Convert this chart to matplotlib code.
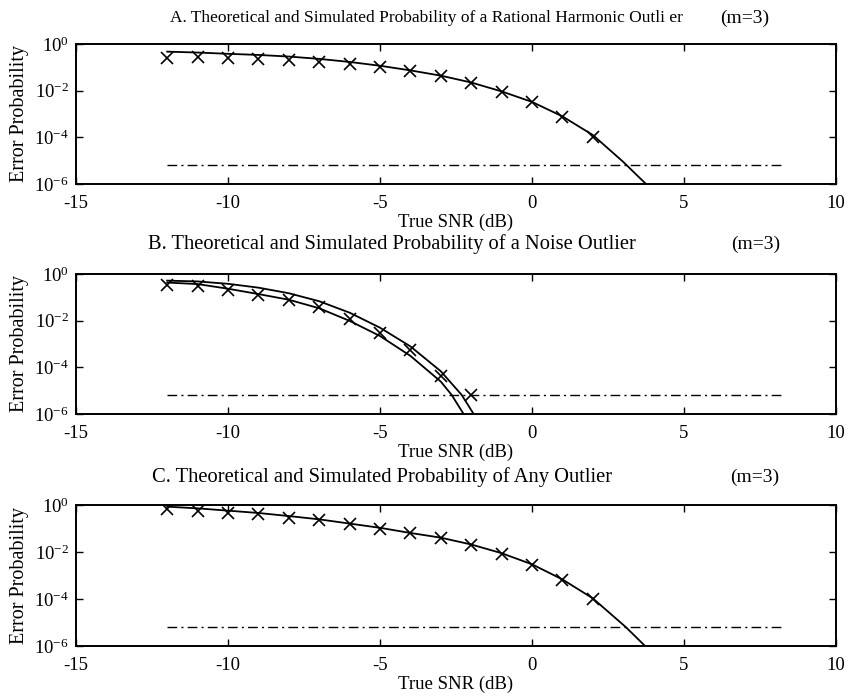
import matplotlib
matplotlib.use("Agg")
import matplotlib.pyplot as plt
import numpy as np

plt.rcParams['font.family'] = ['Liberation Serif', 'DejaVu Serif']
plt.rcParams['mathtext.fontset'] = 'custom'
plt.rcParams['mathtext.rm'] = 'Liberation Serif'
plt.rcParams['mathtext.it'] = 'Liberation Serif:italic'

# ---------------- data ----------------
snr_sim = [-12, -11, -10, -9, -8, -7, -6, -5, -4, -3, -2, -1, 0, 1, 2]

# Panel A: rational harmonic outlier
a_sim = [0.245, 0.27, 0.25, 0.23, 0.205, 0.175, 0.145, 0.107, 0.068, 0.043,
         0.022, 0.0091, 0.0034, 0.00072, 0.000107]
a_theory_x = [-12, -11, -10, -9, -8, -7, -6, -5, -4, -3, -2, -1, 0, 1, 2, 3, 3.75]
a_theory = [0.47, 0.43, 0.38, 0.34, 0.29, 0.23, 0.17, 0.117, 0.074, 0.044,
            0.0224, 0.0093, 0.0033, 0.00079, 0.000126, 8.9e-6, 1e-6]

# Panel B: noise outlier
b_sim_x = [-12, -11, -10, -9, -8, -7, -6, -5, -4, -3, -2]
b_sim = [0.35, 0.30, 0.20, 0.13, 0.074, 0.037, 0.0115, 0.0031, 0.00055,
         4.3e-5, 6.5e-6]
b_upper_x = [-12, -11, -10, -9, -8, -7, -6, -5, -4, -3, -2.31, -1.92]
b_upper = [0.52, 0.48, 0.38, 0.26, 0.15, 0.068, 0.022, 0.005, 0.00079,
           6.8e-5, 6.5e-6, 1e-6]
b_lower_x = [-12, -11, -10, -9, -8, -7, -6, -5, -4, -3, -2.64, -2.25]
b_lower = [0.43, 0.37, 0.234, 0.138, 0.079, 0.034, 0.0098, 0.0022, 0.00031,
           2.45e-5, 6.5e-6, 1e-6]

# Panel C: any outlier
c_sim = [0.65, 0.58, 0.47, 0.40, 0.29, 0.23, 0.155, 0.10, 0.062, 0.041,
         0.0195, 0.0079, 0.0027, 0.00062, 0.0001]
c_theory_x = [-12, -11, -10, -9, -8, -7, -6, -5, -4, -3, -2, -1, 0, 1, 2, 3.09, 3.72]
c_theory = [0.85, 0.72, 0.575, 0.457, 0.339, 0.245, 0.162, 0.107, 0.0646,
            0.0407, 0.0209, 0.0089, 0.0030, 0.00068, 0.000107, 6.3e-6, 1e-6]

floor_x = [-12, 8.2]
floor_y = [6.5e-6, 6.5e-6]

titles = ["A. Theoretical and Simulated Probability of a Rational Harmonic Outli er",
          "B. Theoretical and Simulated Probability of a Noise Outlier",
          "C. Theoretical and Simulated Probability of Any Outlier"]
m_label = "(m=3)"
xlabel = "True SNR (dB)"
ylabel = "Error Probability"
xticks = [-15, -10, -5, 0, 5, 10]
yticks = [1e-6, 1e-4, 1e-2, 1e0]

# ---------------- figure ----------------
fig = plt.figure(figsize=(8.53, 6.97), dpi=100)
W, H = 853.0, 697.0
boxes = [(44, 184), (274, 414), (505, 646)]
axes = []
for top, bot in boxes:
    ax = fig.add_axes([76 / W, 1 - bot / H, 760 / W, (bot - top) / H])
    axes.append(ax)

lw_curve = 1.3
ms = 9
dd = (7, 3, 1.5, 3)

def style(ax):
    ax.set_yscale('log')
    ax.set_xlim(-15, 10)
    ax.set_ylim(1e-6, 1e0)
    ax.set_xticks(xticks)
    ax.set_xticklabels([str(t) for t in xticks])
    ax.set_yticks(yticks)
    ax.yaxis.set_minor_locator(matplotlib.ticker.NullLocator())
    ax.tick_params(direction='in', top=True, right=True, length=5, width=1,
                   labelsize=13.5)
    ax.tick_params(axis='x', pad=8)
    ax.tick_params(axis='y', pad=5)
    for s in ax.spines.values():
        s.set_linewidth(1.4)
    ax.set_xlabel(xlabel, fontsize=13.5, labelpad=1)
    ax.set_ylabel(ylabel, fontsize=14.5, labelpad=4)

# A
ax = axes[0]
ax.plot(a_theory_x, a_theory, '-', color='black', lw=lw_curve)
ax.plot(snr_sim, a_sim, 'x', color='black', ms=ms, mew=1.2)
ax.plot(floor_x, floor_y, color='black', lw=1.0, dashes=dd)
style(ax)

# B
ax = axes[1]
ax.plot(b_upper_x, b_upper, '-', color='black', lw=lw_curve)
ax.plot(b_lower_x, b_lower, '-', color='black', lw=lw_curve)
ax.plot(b_sim_x, b_sim, 'x', color='black', ms=ms, mew=1.2)
ax.plot(floor_x, floor_y, color='black', lw=1.0, dashes=dd)
style(ax)

# C
ax = axes[2]
ax.plot(c_theory_x, c_theory, '-', color='black', lw=lw_curve)
ax.plot(snr_sim, c_sim, 'x', color='black', ms=ms, mew=1.2)
ax.plot(floor_x, floor_y, color='black', lw=1.0, dashes=dd)
style(ax)

# titles: (x start, y center, font size, (m=3) center, (m=3) size)
title_pos = [(170, 18, 12.5, 745, 14), (148, 244, 14.8, 756, 14),
             (152, 477, 14.8, 755, 14)]
for (x0, y0, fs, xm, fm), t in zip(title_pos, titles):
    fig.text(x0 / W, 1 - y0 / H, t, fontsize=fs, ha='left', va='center')
    fig.text(xm / W, 1 - y0 / H, m_label, fontsize=fm, ha='center', va='center')

fig.savefig("out.png", dpi=100)
